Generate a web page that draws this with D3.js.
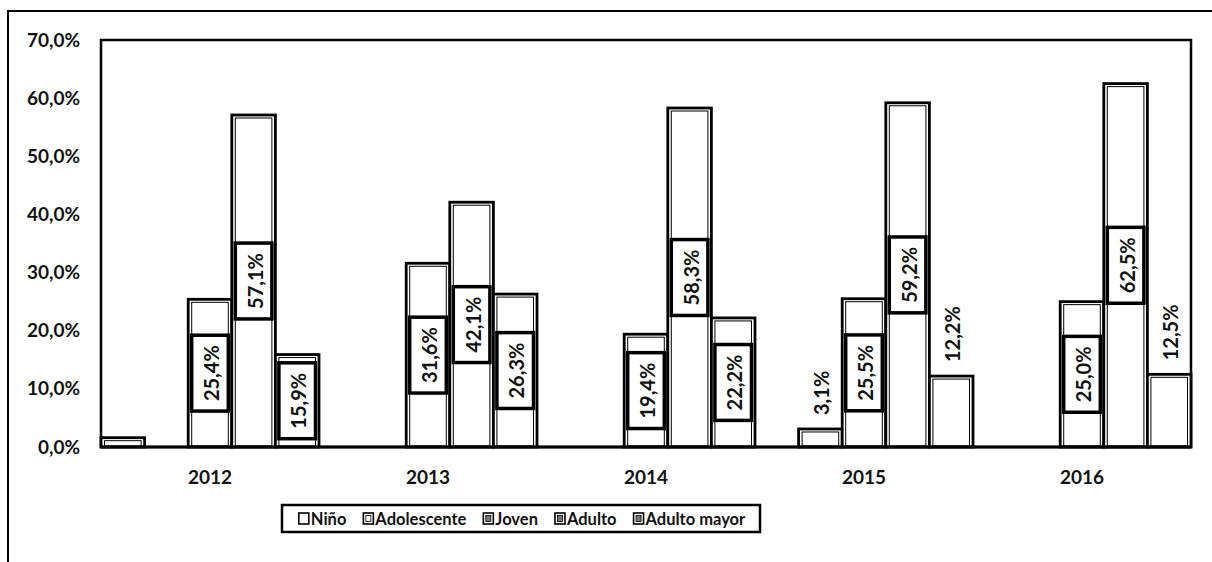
<!DOCTYPE html>
<html>
<head>
<meta charset="utf-8">
<script src="https://cdn.jsdelivr.net/npm/d3@7"></script>
<style>
  html, body { margin: 0; padding: 0; background: #fff; }
  svg { display: block; font-family: Lato, "Open Sans", sans-serif; font-weight: bold; }
</style>
</head>
<body>
<svg id="chart" width="1212" height="562"></svg>
<script>
// ---- data ----
const years = ["2012", "2013", "2014", "2015", "2016"];
const seriesNames = ["Niño", "Adolescente", "Joven", "Adulto", "Adulto mayor"];
const nino        = [1.6, null, null, null, null];
const adolescente = [null, null, null, 3.1, null];
const joven       = [25.4, 31.6, 19.4, 25.5, 25.0];
const adulto      = [57.1, 42.1, 58.3, 59.2, 62.5];
const adultoMayor = [15.9, 26.3, 22.2, 12.2, 12.5];
const ninoLabelShown = [false, true, true, true, true]; // Niño 2012 shows no data label
const yTicks = [0, 10, 20, 30, 40, 50, 60, 70];

const seriesValues = [nino, adolescente, joven, adulto, adultoMayor];

// ---- layout ----
const FONT = "Lato, 'Open Sans', sans-serif";
const svg = d3.select("#chart");
const plot = { left: 101, top: 40, right: 1191, bottom: 447 };

const x0 = d3.scaleBand().domain(years).range([plot.left, plot.right]).padding(0);
const x1 = d3.scaleBand().domain(seriesNames).range([0, x0.bandwidth()]).padding(0);
const y = d3.scaleLinear().domain([0, 70]).range([plot.bottom, plot.top]);
const fmt = v => d3.format(".1f")(v).replace(".", ",") + "%";

// outer frame (right/bottom edges fall outside the picture)
svg.append("rect").attr("x", 8).attr("y", 11).attr("width", 1230).attr("height", 600)
  .attr("fill", "none").attr("stroke", "#000").attr("stroke-width", 2);

// plot area border
svg.append("rect").attr("x", plot.left).attr("y", plot.top)
  .attr("width", plot.right - plot.left).attr("height", plot.bottom - plot.top)
  .attr("fill", "#fff").attr("stroke", "#000").attr("stroke-width", 2.5);

// y axis
const yAxis = d3.axisLeft(y).tickValues(yTicks).tickSize(0).tickPadding(21)
  .tickFormat(v => fmt(v));
const yg = svg.append("g").attr("transform", `translate(${plot.left},0)`).call(yAxis);
yg.select(".domain").remove();
yg.selectAll("text").attr("font-size", 19).attr("font-family", FONT)
  .attr("font-weight", "bold").attr("fill", "#111");

// x axis
const xAxis = d3.axisBottom(x0).tickSize(0).tickPadding(24);
const xg = svg.append("g").attr("transform", `translate(0,${plot.bottom})`).call(xAxis);
xg.select(".domain").remove();
xg.selectAll("text").attr("font-size", 19).attr("font-family", FONT)
  .attr("font-weight", "bold").attr("fill", "#111");

// flatten bar data
const bars = [];
years.forEach((yr, i) => {
  seriesNames.forEach((s, j) => {
    const v = seriesValues[j][i];
    if (v !== null && v !== undefined) bars.push({ year: yr, yi: i, series: s, value: v, si: j });
  });
});

const g = svg.append("g");
const bw = x1.bandwidth();

// bars: thick outline + thin inner line
g.selectAll("rect.bar").data(bars).join("rect").attr("class", "bar")
  .attr("x", d => x0(d.year) + x1(d.series))
  .attr("y", d => y(d.value))
  .attr("width", bw)
  .attr("height", d => y(0) - y(d.value))
  .attr("fill", "#fff").attr("stroke", "#000").attr("stroke-width", 2.8);

g.selectAll("rect.inner").data(bars).join("rect").attr("class", "inner")
  .attr("x", d => x0(d.year) + x1(d.series) + 3.5)
  .attr("y", d => y(d.value) + 3)
  .attr("width", bw - 7)
  .attr("height", d => Math.max(1, y(0) - y(d.value) - 4))
  .attr("fill", "none").attr("stroke", "#000").attr("stroke-width", 1);

// baseline
svg.append("line").attr("x1", plot.left).attr("x2", plot.right)
  .attr("y1", plot.bottom).attr("y2", plot.bottom)
  .attr("stroke", "#000").attr("stroke-width", 3);

// data labels
const labelData = bars.filter(d => !(d.si === 0 && !ninoLabelShown[d.yi]));
const lg = svg.append("g");
labelData.forEach(d => {
  const cx = x0(d.year) + x1(d.series) + bw / 2;
  const inside = d.value >= 15;
  const t = lg.append("text")
    .attr("font-size", 20).attr("font-weight", "bold").attr("fill", "#111")
    .attr("font-family", FONT)
    .attr("dominant-baseline", "central")
    .text(fmt(d.value));
  const len = t.node().getComputedTextLength();
  if (inside) {
    const cy = (y(d.value) + y(0)) / 2;
    const bh = len + 20, bwid = bw - 7;
    lg.insert("rect", "text")
      .attr("x", cx - bwid / 2).attr("y", cy - bh / 2)
      .attr("width", bwid).attr("height", bh)
      .attr("fill", "#fff").attr("stroke", "#000").attr("stroke-width", 3.5);
    t.attr("text-anchor", "middle")
      .attr("transform", `translate(${cx + 1},${cy}) rotate(-90)`);
  } else {
    t.attr("text-anchor", "start")
      .attr("transform", `translate(${cx + 1},${y(d.value) - 14}) rotate(-90)`);
  }
});

// legend
const legend = svg.append("g");
legend.append("rect").attr("x", 282).attr("y", 505).attr("width", 478).attr("height", 27)
  .attr("fill", "#fff").attr("stroke", "#000").attr("stroke-width", 2.5);
const gap = 17;
let lx = 0;
const items = legend.append("g");
seriesNames.forEach((s, j) => {
  const it = items.append("g").attr("transform", `translate(${lx},0)`);
  it.append("rect").attr("x", 0).attr("y", -5.5).attr("width", 10).attr("height", 11)
    .attr("fill", "#fff").attr("stroke", "#000").attr("stroke-width", 1.6);
  if (j > 0) {
    it.append("rect").attr("x", 2.5).attr("y", -3).attr("width", 5).attr("height", 6)
      .attr("fill", j >= 2 ? "#777" : "none").attr("stroke", "#000").attr("stroke-width", 0.8);
  }
  const tx = it.append("text").attr("x", 12).attr("y", 0).attr("dominant-baseline", "central")
    .attr("font-size", 16.5).attr("font-weight", "bold").attr("font-family", FONT)
    .attr("fill", "#111").text(s);
  lx += 12 + tx.node().getComputedTextLength() + gap;
});
const totalW = lx - gap;
items.attr("transform", `translate(${522 - totalW / 2},${518.5})`);
</script>
</body>
</html>
